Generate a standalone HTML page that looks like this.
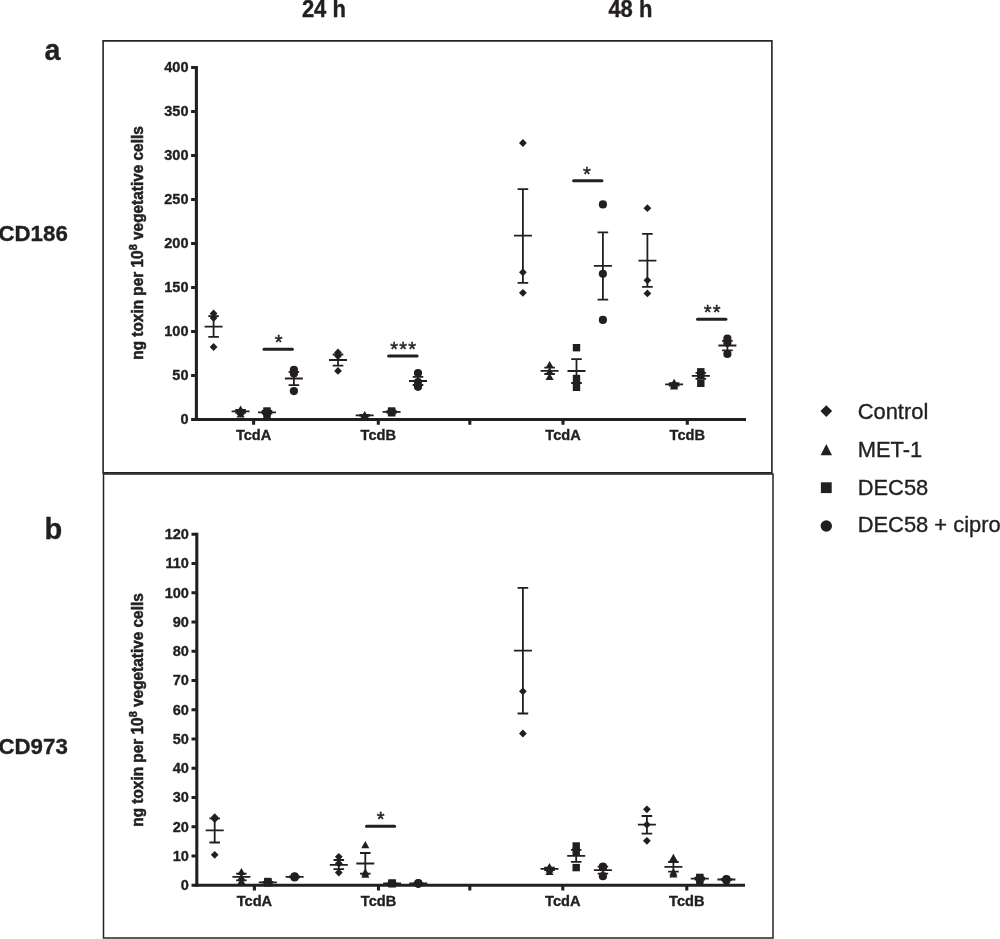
<!DOCTYPE html>
<html lang="en"><head><meta charset="utf-8"><title>Toxin production figure</title>
<style>html,body{margin:0;padding:0;background:#fff}svg{display:block}text{font-family:"Liberation Sans",Arial,Helvetica,sans-serif;fill:#231f20}text[font-weight=bold]{stroke:#231f20;stroke-width:.35px}</style>
</head><body>
<svg width="1000" height="939" viewBox="0 0 1000 939" fill="#231f20">
<rect width="1000" height="939" fill="#fff"/>
<path d="M103.1 40.9H771.9V472.9H103.1Z" fill="none" stroke="#262324" stroke-width="1.6"/>
<path d="M103.5 474.1H773V938.1H103.5Z" fill="none" stroke="#262324" stroke-width="1.5"/>
<text transform="translate(323.9 16.6) scale(1 1.05)" text-anchor="middle" font-size="22" font-weight="bold">24 h</text>
<text transform="translate(630.4 16.6) scale(1 1.05)" text-anchor="middle" font-size="22" font-weight="bold">48 h</text>
<text x="44.5" y="60" font-size="28.6" font-weight="bold">a</text>
<text x="44.5" y="539.3" font-size="29" font-weight="bold">b</text>
<text transform="translate(-1.6 240.5) scale(1 1.03)" font-size="22.3" font-weight="bold">CD186</text>
<text transform="translate(-1.6 754.3) scale(1 1.03)" font-size="22.3" font-weight="bold">CD973</text>
<g>
<path d="M196.40 66.05V421.05" stroke="#231f20" stroke-width="3.1" fill="none"/><path d="M194.85 419.50H746.00" stroke="#231f20" stroke-width="3.1" fill="none"/><path d="M191.10 419.50H196.40M191.10 375.50H196.40M191.10 331.50H196.40M191.10 287.50H196.40M191.10 243.50H196.40M191.10 199.50H196.40M191.10 155.50H196.40M191.10 111.50H196.40M191.10 67.50H196.40" stroke="#231f20" stroke-width="3.1" fill="none"/><text x="188.50" y="424.30" text-anchor="end" font-size="14.5" font-weight="bold">0</text><text x="188.50" y="380.30" text-anchor="end" font-size="14.5" font-weight="bold">50</text><text x="188.50" y="336.30" text-anchor="end" font-size="14.5" font-weight="bold">100</text><text x="188.50" y="292.30" text-anchor="end" font-size="14.5" font-weight="bold">150</text><text x="188.50" y="248.30" text-anchor="end" font-size="14.5" font-weight="bold">200</text><text x="188.50" y="204.30" text-anchor="end" font-size="14.5" font-weight="bold">250</text><text x="188.50" y="160.30" text-anchor="end" font-size="14.5" font-weight="bold">300</text><text x="188.50" y="116.30" text-anchor="end" font-size="14.5" font-weight="bold">350</text><text x="188.50" y="72.30" text-anchor="end" font-size="14.5" font-weight="bold">400</text><text x="253.60" y="439.90" text-anchor="middle" font-size="14.6" font-weight="bold">TcdA</text><text x="378.30" y="439.90" text-anchor="middle" font-size="14.6" font-weight="bold">TcdB</text><text x="563.00" y="439.90" text-anchor="middle" font-size="14.6" font-weight="bold">TcdA</text><text x="687.30" y="439.90" text-anchor="middle" font-size="14.6" font-weight="bold">TcdB</text><path d="M253.60 419.50V424.70M378.30 419.50V424.70M563.00 419.50V424.70M687.30 419.50V424.70M469.80 419.50V424.70" stroke="#231f20" stroke-width="3.1" fill="none"/><text transform="translate(142.8 243.00) rotate(-90) scale(1 1.05)" text-anchor="middle" font-size="15.4" font-weight="bold" style="stroke-width:.5px">ng toxin per 10<tspan font-size="11" dy="-5.5">8</tspan><tspan dy="5.5"> vegetative cells</tspan></text>
<path d="M213.60 309.60L217.50 313.50L213.60 317.40L209.70 313.50Z"/><path d="M213.60 314.10L217.50 318.00L213.60 321.90L209.70 318.00Z"/><path d="M213.60 343.10L217.50 347.00L213.60 350.90L209.70 347.00Z"/><path d="M204.60 326.70H222.60M213.60 316.20V336.80M208.30 316.20H218.90M208.30 336.80H218.90" fill="none" stroke="#231f20" stroke-width="1.8"/>
<path d="M240.60 405.40L244.65 412.60L236.55 412.60Z"/><path d="M240.60 407.90L244.65 415.10L236.55 415.10Z"/><path d="M240.60 410.40L244.65 417.60L236.55 417.60Z"/><path d="M231.60 411.40H249.60M240.60 410.00V412.80M235.30 410.00H245.90M235.30 412.80H245.90" fill="none" stroke="#231f20" stroke-width="1.8"/>
<rect x="263.30" y="407.30" width="7.40" height="7.40"/><rect x="263.30" y="408.80" width="7.40" height="7.40"/><rect x="263.30" y="411.80" width="7.40" height="7.40"/><path d="M258.00 412.30H276.00M267.00 411.00V413.60M261.70 411.00H272.30M261.70 413.60H272.30" fill="none" stroke="#231f20" stroke-width="1.8"/>
<circle cx="293.90" cy="369.80" r="4.10"/><circle cx="293.90" cy="373.50" r="4.10"/><circle cx="293.90" cy="391.10" r="4.10"/><path d="M284.90 378.50H302.90M293.90 371.90V385.10M288.60 371.90H299.20M288.60 385.10H299.20" fill="none" stroke="#231f20" stroke-width="1.8"/>
<path d="M264.00 349.20H292.40" stroke="#231f20" stroke-width="3" stroke-linecap="round" fill="none"/><text x="279.20" y="349.20" text-anchor="middle" font-size="20" letter-spacing="1.2" stroke="#231f20" stroke-width="0.45">*</text>
<path d="M338.00 348.60L341.90 352.50L338.00 356.40L334.10 352.50Z"/><path d="M338.00 352.10L341.90 356.00L338.00 359.90L334.10 356.00Z"/><path d="M338.00 367.00L341.90 370.90L338.00 374.80L334.10 370.90Z"/><path d="M329.00 360.00H347.00M338.00 354.50V365.60M332.70 354.50H343.30M332.70 365.60H343.30" fill="none" stroke="#231f20" stroke-width="1.8"/>
<path d="M364.70 410.90L368.75 418.10L360.65 418.10Z"/><path d="M364.70 411.70L368.75 418.90L360.65 418.90Z"/><path d="M364.70 412.40L368.75 419.60L360.65 419.60Z"/><path d="M355.70 415.30H373.70M364.70 414.80V415.80M359.40 414.80H370.00M359.40 415.80H370.00" fill="none" stroke="#231f20" stroke-width="1.8"/>
<rect x="387.90" y="407.30" width="7.40" height="7.40"/><rect x="387.90" y="408.20" width="7.40" height="7.40"/><rect x="387.90" y="409.10" width="7.40" height="7.40"/><path d="M382.60 411.90H400.60M391.60 411.20V412.60M386.30 411.20H396.90M386.30 412.60H396.90" fill="none" stroke="#231f20" stroke-width="1.8"/>
<circle cx="418.00" cy="373.00" r="4.10"/><circle cx="418.00" cy="382.00" r="4.10"/><circle cx="418.00" cy="386.80" r="4.10"/><path d="M409.00 381.00H427.00M418.00 376.90V385.00M412.70 376.90H423.30M412.70 385.00H423.30" fill="none" stroke="#231f20" stroke-width="1.8"/>
<path d="M388.60 355.90H417.10" stroke="#231f20" stroke-width="3" stroke-linecap="round" fill="none"/><text x="403.65" y="355.70" text-anchor="middle" font-size="20" letter-spacing="1.2" stroke="#231f20" stroke-width="0.45">***</text>
<path d="M522.90 139.10L526.80 143.00L522.90 146.90L519.00 143.00Z"/><path d="M522.90 268.40L526.80 272.30L522.90 276.20L519.00 272.30Z"/><path d="M522.90 288.90L526.80 292.80L522.90 296.70L519.00 292.80Z"/><path d="M513.90 235.60H531.90M522.90 189.10V282.80M517.60 189.10H528.20M517.60 282.80H528.20" fill="none" stroke="#231f20" stroke-width="1.8"/>
<path d="M549.60 360.90L553.65 368.10L545.55 368.10Z"/><path d="M549.60 367.40L553.65 374.60L545.55 374.60Z"/><path d="M549.60 372.90L553.65 380.10L545.55 380.10Z"/><path d="M540.60 370.80H558.60M549.60 367.70V374.00M544.30 367.70H554.90M544.30 374.00H554.90" fill="none" stroke="#231f20" stroke-width="1.8"/>
<rect x="572.80" y="344.00" width="7.40" height="7.40"/><rect x="572.80" y="374.80" width="7.40" height="7.40"/><rect x="572.80" y="383.60" width="7.40" height="7.40"/><path d="M567.50 371.00H585.50M576.50 359.10V383.00M571.20 359.10H581.80M571.20 383.00H581.80" fill="none" stroke="#231f20" stroke-width="1.8"/>
<circle cx="602.90" cy="204.40" r="4.10"/><circle cx="602.90" cy="273.80" r="4.10"/><circle cx="602.90" cy="319.90" r="4.10"/><path d="M593.90 265.80H611.90M602.90 232.30V299.60M597.60 232.30H608.20M597.60 299.60H608.20" fill="none" stroke="#231f20" stroke-width="1.8"/>
<path d="M573.60 180.80H601.90" stroke="#231f20" stroke-width="3" stroke-linecap="round" fill="none"/><text x="587.45" y="180.70" text-anchor="middle" font-size="20" letter-spacing="1.2" stroke="#231f20" stroke-width="0.45">*</text>
<path d="M647.40 204.30L651.30 208.20L647.40 212.10L643.50 208.20Z"/><path d="M647.40 276.40L651.30 280.30L647.40 284.20L643.50 280.30Z"/><path d="M647.40 289.50L651.30 293.40L647.40 297.30L643.50 293.40Z"/><path d="M638.40 260.60H656.40M647.40 233.80V286.90M642.10 233.80H652.70M642.10 286.90H652.70" fill="none" stroke="#231f20" stroke-width="1.8"/>
<path d="M674.10 378.80L678.15 386.00L670.05 386.00Z"/><path d="M674.10 380.90L678.15 388.10L670.05 388.10Z"/><path d="M674.10 382.40L678.15 389.60L670.05 389.60Z"/><path d="M665.10 384.40H683.10M674.10 383.20V385.60M668.80 383.20H679.40M668.80 385.60H679.40" fill="none" stroke="#231f20" stroke-width="1.8"/>
<rect x="697.10" y="368.10" width="7.40" height="7.40"/><rect x="697.10" y="371.30" width="7.40" height="7.40"/><rect x="697.10" y="379.60" width="7.40" height="7.40"/><path d="M691.80 375.80H709.80M700.80 372.80V378.80M695.50 372.80H706.10M695.50 378.80H706.10" fill="none" stroke="#231f20" stroke-width="1.8"/>
<circle cx="727.40" cy="338.70" r="4.10"/><circle cx="727.40" cy="342.80" r="4.10"/><circle cx="727.40" cy="354.00" r="4.10"/><path d="M718.40 345.50H736.40M727.40 340.80V350.30M722.10 340.80H732.70M722.10 350.30H732.70" fill="none" stroke="#231f20" stroke-width="1.8"/>
<path d="M697.50 319.20H725.90" stroke="#231f20" stroke-width="3" stroke-linecap="round" fill="none"/><text x="712.70" y="319.10" text-anchor="middle" font-size="20" letter-spacing="1.2" stroke="#231f20" stroke-width="0.45">**</text>
</g>
<g>
<path d="M196.80 532.75V886.75" stroke="#231f20" stroke-width="3.1" fill="none"/><path d="M195.25 885.20H745.00" stroke="#231f20" stroke-width="3.1" fill="none"/><path d="M191.50 885.20H196.80M191.50 855.95H196.80M191.50 826.70H196.80M191.50 797.45H196.80M191.50 768.20H196.80M191.50 738.95H196.80M191.50 709.70H196.80M191.50 680.45H196.80M191.50 651.20H196.80M191.50 621.95H196.80M191.50 592.70H196.80M191.50 563.45H196.80M191.50 534.20H196.80" stroke="#231f20" stroke-width="3.1" fill="none"/><text x="188.90" y="890.00" text-anchor="end" font-size="14.5" font-weight="bold">0</text><text x="188.90" y="860.75" text-anchor="end" font-size="14.5" font-weight="bold">10</text><text x="188.90" y="831.50" text-anchor="end" font-size="14.5" font-weight="bold">20</text><text x="188.90" y="802.25" text-anchor="end" font-size="14.5" font-weight="bold">30</text><text x="188.90" y="773.00" text-anchor="end" font-size="14.5" font-weight="bold">40</text><text x="188.90" y="743.75" text-anchor="end" font-size="14.5" font-weight="bold">50</text><text x="188.90" y="714.50" text-anchor="end" font-size="14.5" font-weight="bold">60</text><text x="188.90" y="685.25" text-anchor="end" font-size="14.5" font-weight="bold">70</text><text x="188.90" y="656.00" text-anchor="end" font-size="14.5" font-weight="bold">80</text><text x="188.90" y="626.75" text-anchor="end" font-size="14.5" font-weight="bold">90</text><text x="188.90" y="597.50" text-anchor="end" font-size="14.5" font-weight="bold">100</text><text x="188.90" y="568.25" text-anchor="end" font-size="14.5" font-weight="bold">110</text><text x="188.90" y="539.00" text-anchor="end" font-size="14.5" font-weight="bold">120</text><text x="254.40" y="905.60" text-anchor="middle" font-size="14.6" font-weight="bold">TcdA</text><text x="378.50" y="905.60" text-anchor="middle" font-size="14.6" font-weight="bold">TcdB</text><text x="562.80" y="905.60" text-anchor="middle" font-size="14.6" font-weight="bold">TcdA</text><text x="686.80" y="905.60" text-anchor="middle" font-size="14.6" font-weight="bold">TcdB</text><path d="M254.40 885.20V890.40M378.50 885.20V890.40M562.80 885.20V890.40M686.80 885.20V890.40M469.80 885.20V890.40" stroke="#231f20" stroke-width="3.1" fill="none"/><text transform="translate(142.8 710.00) rotate(-90) scale(1 1.05)" text-anchor="middle" font-size="15.4" font-weight="bold" style="stroke-width:.5px">ng toxin per 10<tspan font-size="11" dy="-5.5">8</tspan><tspan dy="5.5"> vegetative cells</tspan></text>
<path d="M214.70 813.30L218.60 817.20L214.70 821.10L210.80 817.20Z"/><path d="M214.70 815.10L218.60 819.00L214.70 822.90L210.80 819.00Z"/><path d="M214.70 850.90L218.60 854.80L214.70 858.70L210.80 854.80Z"/><path d="M205.70 830.40H223.70M214.70 818.30V842.50M209.40 818.30H220.00M209.40 842.50H220.00" fill="none" stroke="#231f20" stroke-width="1.8"/>
<path d="M241.40 867.90L245.45 875.10L237.35 875.10Z"/><path d="M241.40 873.40L245.45 880.60L237.35 880.60Z"/><path d="M241.40 877.40L245.45 884.60L237.35 884.60Z"/><path d="M232.40 876.90H250.40M241.40 873.60V880.40M236.10 873.60H246.70M236.10 880.40H246.70" fill="none" stroke="#231f20" stroke-width="1.8"/>
<rect x="264.10" y="877.80" width="7.40" height="7.40"/><rect x="264.10" y="878.60" width="7.40" height="7.40"/><rect x="264.10" y="879.30" width="7.40" height="7.40"/><path d="M258.80 882.30H276.80M267.80 881.80V882.80M262.50 881.80H273.10M262.50 882.80H273.10" fill="none" stroke="#231f20" stroke-width="1.8"/>
<circle cx="294.60" cy="876.30" r="4.10"/><circle cx="294.60" cy="876.90" r="4.10"/><circle cx="294.60" cy="877.50" r="4.10"/><path d="M285.60 876.90H303.60M294.60 876.50V877.30M289.30 876.50H299.90M289.30 877.30H299.90" fill="none" stroke="#231f20" stroke-width="1.8"/>
<path d="M338.80 852.90L342.70 856.80L338.80 860.70L334.90 856.80Z"/><path d="M338.80 859.60L342.70 863.50L338.80 867.40L334.90 863.50Z"/><path d="M338.80 868.70L342.70 872.60L338.80 876.50L334.90 872.60Z"/><path d="M329.80 864.90H347.80M338.80 860.00V869.20M333.50 860.00H344.10M333.50 869.20H344.10" fill="none" stroke="#231f20" stroke-width="1.8"/>
<path d="M365.30 841.00L369.35 848.20L361.25 848.20Z"/><path d="M365.30 868.20L369.35 875.40L361.25 875.40Z"/><path d="M365.30 870.60L369.35 877.80L361.25 877.80Z"/><path d="M356.30 863.50H374.30M365.30 853.00V873.60M360.00 853.00H370.60M360.00 873.60H370.60" fill="none" stroke="#231f20" stroke-width="1.8"/>
<rect x="388.40" y="879.30" width="7.40" height="7.40"/><rect x="388.40" y="879.70" width="7.40" height="7.40"/><rect x="388.40" y="880.10" width="7.40" height="7.40"/><path d="M383.10 883.40H401.10M392.10 883.10V883.70M386.80 883.10H397.40M386.80 883.70H397.40" fill="none" stroke="#231f20" stroke-width="1.8"/>
<circle cx="418.30" cy="883.00" r="4.10"/><circle cx="418.30" cy="883.40" r="4.10"/><circle cx="418.30" cy="883.80" r="4.10"/><path d="M409.30 883.40H427.30M418.30 883.10V883.70M413.00 883.10H423.60M413.00 883.70H423.60" fill="none" stroke="#231f20" stroke-width="1.8"/>
<path d="M366.50 826.30H394.60" stroke="#231f20" stroke-width="3" stroke-linecap="round" fill="none"/><text x="381.35" y="826.20" text-anchor="middle" font-size="20" letter-spacing="1.2" stroke="#231f20" stroke-width="0.45">*</text>
<path d="M522.90 687.40L526.80 691.30L522.90 695.20L519.00 691.30Z"/><path d="M522.90 729.60L526.80 733.50L522.90 737.40L519.00 733.50Z"/><path d="M513.90 650.60H531.90M522.90 587.90V713.50M517.60 587.90H528.20M517.60 713.50H528.20" fill="none" stroke="#231f20" stroke-width="1.8"/>
<path d="M549.50 862.90L553.55 870.10L545.45 870.10Z"/><path d="M549.50 865.40L553.55 872.60L545.45 872.60Z"/><path d="M549.50 867.90L553.55 875.10L545.45 875.10Z"/><path d="M540.50 868.90H558.50M549.50 867.60V870.20M544.20 867.60H554.80M544.20 870.20H554.80" fill="none" stroke="#231f20" stroke-width="1.8"/>
<rect x="572.50" y="842.30" width="7.40" height="7.40"/><rect x="572.50" y="847.70" width="7.40" height="7.40"/><rect x="572.50" y="863.90" width="7.40" height="7.40"/><path d="M567.20 855.80H585.20M576.20 849.80V861.80M570.90 849.80H581.50M570.90 861.80H581.50" fill="none" stroke="#231f20" stroke-width="1.8"/>
<circle cx="602.90" cy="866.70" r="4.10"/><circle cx="602.90" cy="867.40" r="4.10"/><circle cx="602.90" cy="876.20" r="4.10"/><path d="M593.90 870.10H611.90M602.90 866.60V873.70M597.60 866.60H608.20M597.60 873.70H608.20" fill="none" stroke="#231f20" stroke-width="1.8"/>
<path d="M646.90 805.40L650.80 809.30L646.90 813.20L643.00 809.30Z"/><path d="M646.90 820.80L650.80 824.70L646.90 828.60L643.00 824.70Z"/><path d="M646.90 836.90L650.80 840.80L646.90 844.70L643.00 840.80Z"/><path d="M637.90 824.70H655.90M646.90 816.00V833.60M641.60 816.00H652.20M641.60 833.60H652.20" fill="none" stroke="#231f20" stroke-width="1.8"/>
<path d="M673.40 853.80L677.45 861.00L669.35 861.00Z"/><path d="M673.40 868.20L677.45 875.40L669.35 875.40Z"/><path d="M673.40 870.20L677.45 877.40L669.35 877.40Z"/><path d="M664.40 866.80H682.40M673.40 862.00V871.60M668.10 862.00H678.70M668.10 871.60H678.70" fill="none" stroke="#231f20" stroke-width="1.8"/>
<rect x="696.10" y="873.70" width="7.40" height="7.40"/><rect x="696.10" y="874.90" width="7.40" height="7.40"/><rect x="696.10" y="876.90" width="7.40" height="7.40"/><path d="M690.80 878.60H708.80M699.80 877.60V879.60M694.50 877.60H705.10M694.50 879.60H705.10" fill="none" stroke="#231f20" stroke-width="1.8"/>
<circle cx="726.40" cy="879.00" r="4.10"/><circle cx="726.40" cy="879.50" r="4.10"/><circle cx="726.40" cy="880.60" r="4.10"/><path d="M717.40 879.50H735.40M726.40 879.00V880.00M721.10 879.00H731.70M721.10 880.00H731.70" fill="none" stroke="#231f20" stroke-width="1.8"/>
</g>
<g>
<path d="M826.30 405.20L832.20 411.10L826.30 417.00L820.40 411.10Z"/>
<path d="M826.3 444L832.0 455.2L820.5999999999999 455.2Z"/>
<rect x="820.90" y="482.30" width="10.80" height="10.80"/>
<circle cx="826.30" cy="526.00" r="5.70"/>
<text x="857.7" y="418.9" font-size="21.9" stroke="#231f20" stroke-width="0.35">Control</text>
<text x="857.7" y="457.3" font-size="21.9" stroke="#231f20" stroke-width="0.35">MET-1</text>
<text x="857.7" y="494.6" font-size="21.9" stroke="#231f20" stroke-width="0.35">DEC58</text>
<text x="857.7" y="532.3" font-size="21.9" stroke="#231f20" stroke-width="0.35">DEC58 + cipro</text>
</g>
</svg></body></html>
